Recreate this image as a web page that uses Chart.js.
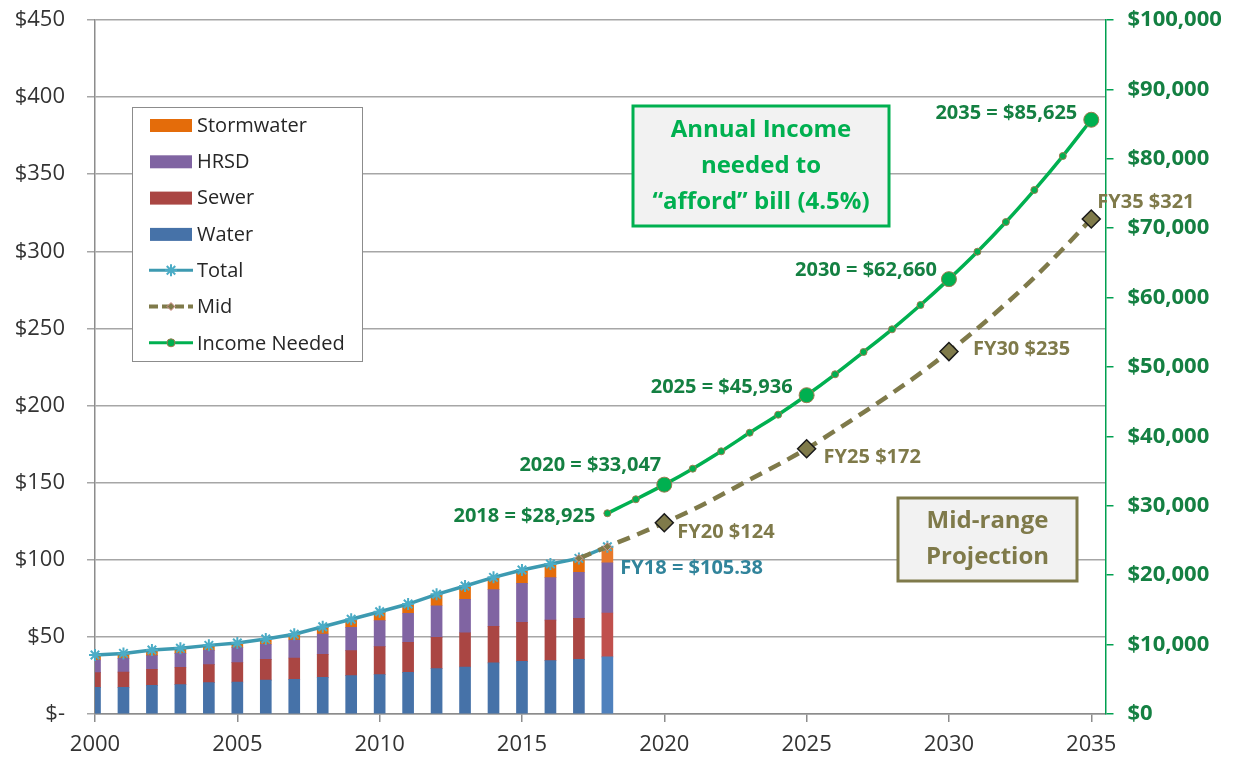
<!DOCTYPE html>
<html>
<head>
<meta charset="utf-8">
<script src="https://cdn.jsdelivr.net/npm/chart.js@4"></script>
<style>
  html, body { margin: 0; padding: 0; background: #fff; }
  canvas { display: block; }
</style>
</head>
<body>
<canvas id="chart" width="1241" height="760"></canvas>
<script>
// --- data ---
const barYears = [2000, 2001, 2002, 2003, 2004, 2005, 2006, 2007, 2008, 2009, 2010, 2011, 2012, 2013, 2014, 2015, 2016, 2017, 2018];
const water = [17.3, 17.3, 18.6, 19.0, 20.3, 20.7, 22.0, 22.5, 23.8, 24.9, 25.5, 27.0, 29.4, 30.5, 33.1, 34.1, 34.6, 35.4, 37.0];
const sewer = [9.5, 9.9, 10.4, 11.3, 11.7, 12.6, 13.4, 13.8, 14.9, 16.2, 18.2, 19.5, 20.3, 22.2, 23.7, 25.3, 26.3, 26.6, 28.5];
const hrsd = [8.2, 8.9, 8.8, 9.0, 9.3, 9.7, 9.8, 11.7, 13.2, 15.1, 16.8, 18.8, 20.5, 21.6, 23.8, 25.3, 27.5, 29.9, 32.6];
const stormwater = [3.3, 3.2, 3.7, 3.3, 3.2, 3.0, 3.4, 3.7, 4.7, 5.2, 5.8, 6.0, 7.4, 8.7, 8.0, 8.7, 8.9, 9.0, 10.4];
const total = [38.3, 39.3, 41.5, 42.6, 44.5, 46.0, 48.6, 51.7, 56.6, 61.4, 66.3, 71.3, 77.6, 83.0, 88.6, 93.4, 97.3, 100.9, 108.5];

const midYears = [2017, 2018, 2019, 2020, 2021, 2022, 2023, 2024, 2025, 2026, 2027, 2028, 2029, 2030, 2031, 2032, 2033, 2034, 2035];
const mid = [100.9, 108.5, 116.0, 124.0, 132.5, 142.0, 152.0, 161.7, 172.0, 183.6, 195.6, 208.0, 221.0, 235.0, 250.0, 266.0, 283.0, 301.5, 321.0];

const incomeYears = [2018, 2019, 2020, 2021, 2022, 2023, 2024, 2025, 2026, 2027, 2028, 2029, 2030, 2031, 2032, 2033, 2034, 2035];
const incomeNeeded = [28925, 30940, 33047, 35350, 37850, 40530, 43130, 45936, 48950, 52160, 55430, 58930, 62660, 66610, 70890, 75500, 80400, 85625];

const xTicks = [2000, 2005, 2010, 2015, 2020, 2025, 2030, 2035];
const keyYears = [2020, 2025, 2030, 2035];

const incomeLabels = ['2018 = $28,925', '2020 = $33,047', '2025 = $45,936', '2030 = $62,660', '2035 = $85,625'];
const midLabels = ['FY20 $124', 'FY25 $172', 'FY30 $235', 'FY35 $321'];
const totalLabel = 'FY18 = $105.38';
const seriesNames = ['Stormwater', 'HRSD', 'Sewer', 'Water', 'Total', 'Mid', 'Income Needed'];

// --- styles ---
const FONT = "'Open Sans', sans-serif";
const COL = {
  water: '#4672A8', water18: '#4F81BD',
  sewer: '#AA4643', sewer18: '#C0504D',
  hrsd: '#8064A2', hrsd18: '#8064A2',
  storm: '#E46C0A', storm18: '#E8792A',
  total: '#3D9AB1', totalMark: '#4BACC6',
  mid: '#7F7A4A',
  income: '#00B050',
  incomeText: '#148042',
  grid: '#A6A6A6', axis: '#8C8C8C', text: '#333333'
};

const lastIdx = barYears.length - 1;
const barColor = (c, c18) => barYears.map((_, i) => i === lastIdx ? c18 : c);
const pts = (xs, ys) => xs.map((x, i) => ({ x: x, y: ys[i] }));

function barSet(label, vals, c, c18) {
  return {
    type: 'bar', label: label, data: pts(barYears, vals),
    backgroundColor: barColor(c, c18), borderWidth: 0,
    barThickness: 11, yAxisID: 'y', stack: 'bills', order: 5
  };
}

// no extra label padding above/below the vertical axes: the plot spans 20..714
function fixVertical(width) {
  return s => { s.width = width; s.paddingTop = 0; s.paddingBottom = 0; };
}

// legend, annotation boxes and value labels
const overlay = {
  id: 'overlay',
  afterDatasetsDraw(chart) {
    const ctx = chart.ctx;
    const sx = chart.scales.x, sy = chart.scales.y, sy2 = chart.scales.y2;
    ctx.save();

    // Income labels (right-aligned, left of point)
    ctx.font = 'bold 20px ' + FONT;
    ctx.fillStyle = COL.incomeText;
    ctx.textAlign = 'right';
    ctx.textBaseline = 'middle';
    const incYears = [2018].concat(keyYears);
    const incOff = [[-12, 3], [-3, -19], [-14, -8], [-12, -9], [-14, -6]];
    incYears.forEach((yr, i) => {
      const v = incomeNeeded[incomeYears.indexOf(yr)];
      ctx.fillText(incomeLabels[i], sx.getPixelForValue(yr) + incOff[i][0], sy2.getPixelForValue(v) + incOff[i][1]);
    });

    // Mid labels
    ctx.fillStyle = COL.mid;
    ctx.textAlign = 'left';
    const midOff = [[13, 10], [17, 9], [24, -2], [6, -17]];
    keyYears.forEach((yr, i) => {
      const v = mid[midYears.indexOf(yr)];
      ctx.fillText(midLabels[i], sx.getPixelForValue(yr) + midOff[i][0], sy.getPixelForValue(v) + midOff[i][1]);
    });

    // Total label
    ctx.fillStyle = '#31849B';
    ctx.fillText(totalLabel, sx.getPixelForValue(2018) + 13, sy.getPixelForValue(total[lastIdx]) + 22);

    // Annotation boxes
    function box(x, y, w, h, stroke, color, lines, lh) {
      ctx.fillStyle = '#F2F2F2';
      ctx.fillRect(x, y, w, h);
      ctx.lineWidth = 3;
      ctx.strokeStyle = stroke;
      ctx.strokeRect(x, y, w, h);
      ctx.fillStyle = color;
      ctx.font = 'bold 24px ' + FONT;
      ctx.textAlign = 'center';
      ctx.textBaseline = 'middle';
      const cy = y + h / 2 - (lines.length - 1) * lh / 2;
      lines.forEach((t, i) => ctx.fillText(t, x + w / 2, cy + i * lh));
    }
    box(633, 106, 256, 120, '#00B050', '#00B050', ['Annual Income', 'needed to', '\u201Cafford\u201D bill (4.5%)'], 36);
    box(898, 498, 179, 83, COL.mid, COL.mid, ['Mid-range', 'Projection'], 36);

    // Legend
    const lx = 132, ly = 107, lw = 230, lh = 254;
    ctx.fillStyle = '#FFFFFF';
    ctx.fillRect(lx, ly, lw, lh);
    ctx.lineWidth = 1;
    ctx.strokeStyle = COL.axis;
    ctx.strokeRect(lx + 0.5, ly + 0.5, lw, lh);
    ctx.font = '20px ' + FONT;
    ctx.textAlign = 'left';
    ctx.textBaseline = 'middle';
    const swatch = [COL.storm, COL.hrsd, COL.sewer, COL.water];
    seriesNames.forEach((name, i) => {
      const y = ly + 18 + i * 36.3;
      if (i < 4) {
        ctx.fillStyle = swatch[i];
        ctx.fillRect(150, y - 6, 42, 13);
      } else {
        const color = [COL.total, COL.mid, COL.income][i - 4];
        ctx.strokeStyle = color;
        ctx.lineWidth = i === 5 ? 4 : 3;
        ctx.setLineDash(i === 5 ? [9, 4] : []);
        ctx.beginPath();
        ctx.moveTo(149, y);
        ctx.lineTo(193, y);
        ctx.stroke();
        ctx.setLineDash([]);
        if (i === 4) {
          ctx.strokeStyle = COL.totalMark;
          ctx.lineWidth = 2;
          Chart.helpers.drawPoint(ctx, { pointStyle: 'star', radius: 6, borderWidth: 2 }, 171, y);
        } else if (i === 5) {
          ctx.fillStyle = COL.mid;
          ctx.strokeStyle = '#D99694';
          ctx.lineWidth = 1;
          Chart.helpers.drawPoint(ctx, { pointStyle: 'rectRot', radius: 4, borderWidth: 1 }, 171, y);
        } else {
          ctx.fillStyle = COL.income;
          ctx.strokeStyle = '#9C7A4E';
          ctx.lineWidth = 1;
          Chart.helpers.drawPoint(ctx, { pointStyle: 'circle', radius: 4, borderWidth: 1 }, 171, y);
        }
      }
      ctx.fillStyle = '#262626';
      ctx.fillText(name, 197, y + 1);
    });

    ctx.restore();
  }
};

const isKey = yr => keyYears.indexOf(yr) >= 0;

new Chart(document.getElementById('chart'), {
  data: {
    datasets: [
      barSet('Water', water, COL.water, COL.water18),
      barSet('Sewer', sewer, COL.sewer, COL.sewer18),
      barSet('HRSD', hrsd, COL.hrsd, COL.hrsd18),
      barSet('Stormwater', stormwater, COL.storm, COL.storm18),
      {
        type: 'line', label: 'Total', data: pts(barYears, total),
        borderColor: COL.total, borderWidth: 3.5, tension: 0,
        pointStyle: 'star', pointRadius: 6, pointBorderWidth: 2,
        pointBorderColor: COL.totalMark, pointBackgroundColor: COL.totalMark,
        yAxisID: 'y', stack: 'total', order: 2, clip: false
      },
      {
        type: 'line', label: 'Mid', data: pts(midYears, mid),
        borderColor: COL.mid, borderWidth: 4.5, borderDash: [13, 8],
        cubicInterpolationMode: 'monotone',
        pointStyle: 'rectRot',
        pointRadius: midYears.map(yr => isKey(yr) ? 9 : (yr <= 2018 ? 4 : 0)),
        pointBackgroundColor: COL.mid,
        pointBorderColor: midYears.map(yr => isKey(yr) ? '#1A1A1A' : '#D99694'),
        pointBorderWidth: midYears.map(yr => isKey(yr) ? 1.5 : 1),
        yAxisID: 'y', stack: 'mid', order: 1, clip: false
      },
      {
        type: 'line', label: 'Income Needed', data: pts(incomeYears, incomeNeeded),
        borderColor: COL.income, borderWidth: 3.5,
        cubicInterpolationMode: 'monotone',
        pointStyle: 'circle',
        pointRadius: incomeYears.map(yr => isKey(yr) ? 7.5 : 3.5),
        pointBackgroundColor: COL.income, pointBorderColor: '#9C7A4E', pointBorderWidth: 1,
        yAxisID: 'y2', order: 0, clip: false
      }
    ]
  },
  options: {
    responsive: false,
    animation: false,
    devicePixelRatio: 1,
    layout: { padding: { top: 20, left: 0, right: 0, bottom: 0 } },
    plugins: { legend: { display: false }, tooltip: { enabled: false } },
    scales: {
      x: {
        type: 'linear', min: 2000, max: 2035.5, stacked: true, offset: false,
        afterBuildTicks: s => { s.ticks = xTicks.map(v => ({ value: v })); },
        afterFit: s => { s.height = 46; },
        ticks: { callback: v => String(v), color: COL.text, font: { family: FONT, size: 22 }, padding: 10, maxRotation: 0, autoSkip: false },
        grid: { drawOnChartArea: false, offset: false, color: COL.axis, lineWidth: 1.5, tickLength: 8 },
        border: { color: COL.axis, width: 1.5 }
      },
      y: {
        position: 'left', min: 0, max: 450, stacked: true,
        afterFit: fixVertical(95),
        ticks: { stepSize: 50, callback: v => v === 0 ? '$-' : '$' + v, color: COL.text, font: { family: FONT, size: 22 }, padding: 22 },
        grid: { color: COL.grid, lineWidth: 1.5, tickLength: 8 },
        border: { color: COL.axis, width: 1.5 }
      },
      y2: {
        position: 'right', min: 0, max: 100000,
        afterFit: fixVertical(135.5),
        ticks: { stepSize: 10000, callback: v => '$' + v.toLocaleString('en-US'), color: COL.incomeText, font: { family: FONT, size: 22, weight: 'bold' }, padding: 14 },
        grid: { drawOnChartArea: false, color: '#00A050', lineWidth: 1.5, tickLength: 8 },
        border: { color: '#00A050', width: 1.5 }
      }
    }
  },
  plugins: [overlay]
});
</script>
</body>
</html>
